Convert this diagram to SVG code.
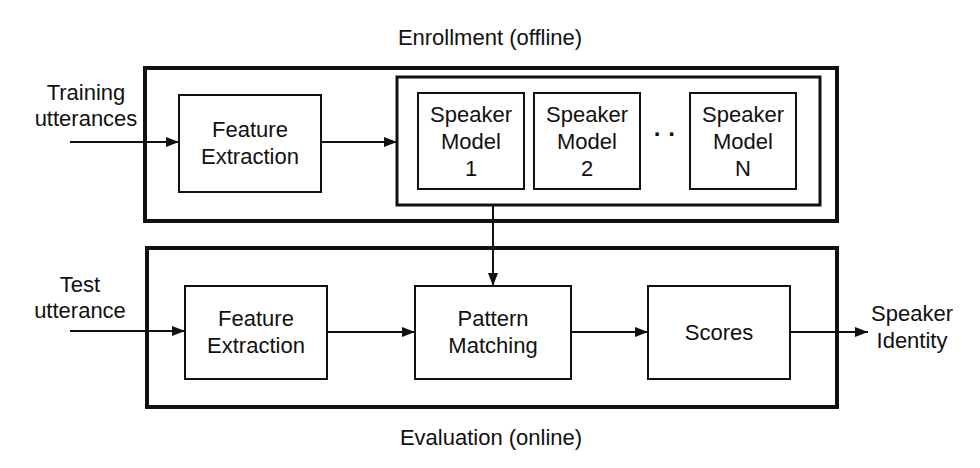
<svg xmlns="http://www.w3.org/2000/svg" width="980" height="468" viewBox="0 0 980 468">
<style>
text{font-family:"Liberation Sans",Arial,sans-serif;font-size:22px;fill:#111;text-anchor:middle}
.box{fill:#fff;stroke:#111;stroke-width:2}
.outer{fill:none;stroke:#111;stroke-width:4}
.inner{fill:none;stroke:#111;stroke-width:3}
.c{stroke:#111;stroke-width:2;fill:none;marker-end:url(#ah)}
</style>
<defs>
<marker id="ah" viewBox="0 0 13 10" refX="13" refY="5" markerWidth="13" markerHeight="10" markerUnits="userSpaceOnUse" orient="auto">
<path d="M0,0 L13,5 L0,10 Z" fill="#111"/>
</marker>
</defs>
<rect width="980" height="468" fill="#fff"/>
<g id="enrollment">
<rect class="outer" x="145" y="68" width="692" height="153"/>
<text x="490" y="45">Enrollment (offline)</text>
</g>
<g id="models">
<rect class="inner" x="397" y="77" width="423" height="128"/>
</g>
<g id="fe1">
<rect class="box" x="179" y="95" width="142" height="97"/>
<text x="250" y="137">Feature</text>
<text x="250" y="164">Extraction</text>
</g>
<g id="sm1">
<rect class="box" x="418" y="93" width="106" height="96"/>
<text x="471" y="122">Speaker</text>
<text x="471" y="149">Model</text>
<text x="471" y="176">1</text>
</g>
<g id="sm2">
<rect class="box" x="534" y="93" width="106" height="96"/>
<text x="587" y="122">Speaker</text>
<text x="587" y="149">Model</text>
<text x="587" y="176">2</text>
</g>
<g id="dots">
<text x="665" y="142" style="font-weight:bold;font-size:24px">· ·</text>
</g>
<g id="smN">
<rect class="box" x="690" y="93" width="106" height="96"/>
<text x="743" y="122">Speaker</text>
<text x="743" y="149">Model</text>
<text x="743" y="176">N</text>
</g>
<g id="evaluation">
<rect class="outer" x="147" y="248" width="690" height="159"/>
<text x="491" y="445">Evaluation (online)</text>
</g>
<g id="fe2">
<rect class="box" x="185" y="286" width="142" height="93"/>
<text x="256" y="326">Feature</text>
<text x="256" y="353">Extraction</text>
</g>
<g id="pm">
<rect class="box" x="415" y="286" width="156" height="93"/>
<text x="493" y="326">Pattern</text>
<text x="493" y="353">Matching</text>
</g>
<g id="scores">
<rect class="box" x="648" y="286" width="142" height="93"/>
<text x="719" y="340">Scores</text>
</g>
<g id="labels">
<text x="86" y="100">Training</text>
<text x="86" y="126">utterances</text>
<text x="80" y="292">Test</text>
<text x="80" y="318">utterance</text>
<text x="912" y="321">Speaker</text>
<text x="912" y="348">Identity</text>
</g>
<g id="connectors">
<path class="c" d="M70,142 H179"/>
<path class="c" d="M321,142 H397"/>
<path class="c" d="M493,205 V286"/>
<path class="c" d="M70,331 H185"/>
<path class="c" d="M327,332 H415"/>
<path class="c" d="M571,332 H648"/>
<path class="c" d="M790,332 H868"/>
</g>
</svg>
